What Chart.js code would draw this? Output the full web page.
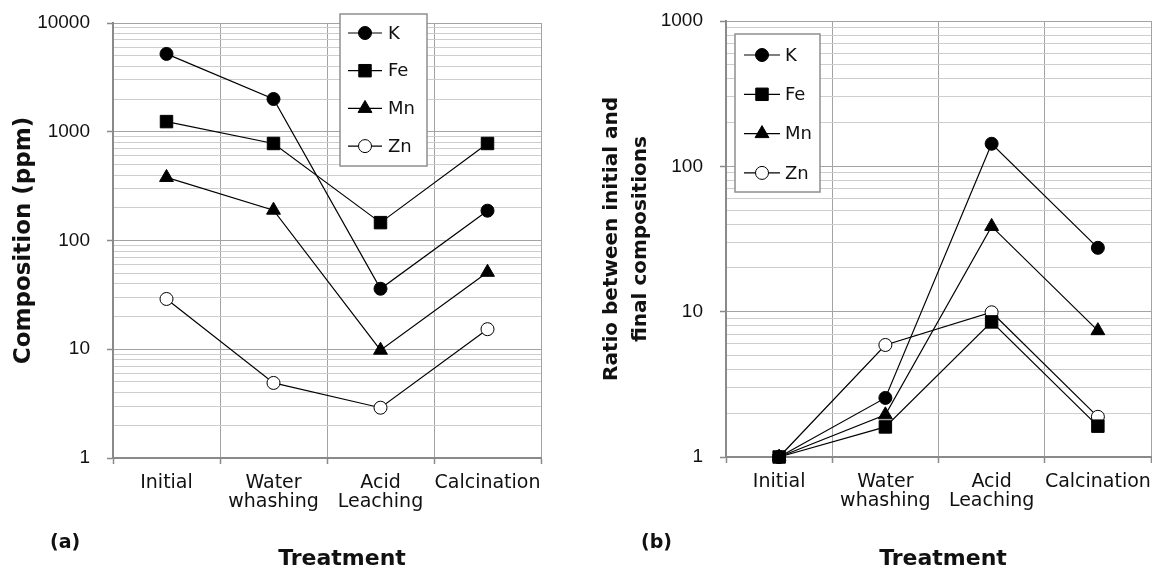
<!DOCTYPE html>
<html>
<head>
<meta charset="utf-8">
<script src="https://cdn.jsdelivr.net/npm/chart.js@4.4.1/dist/chart.umd.min.js"></script>
<style>
  html, body { margin: 0; padding: 0; background: #fff; overflow: hidden; }
  #wrap { position: relative; width: 1152px; height: 572px; overflow: hidden; }
  .box { position: absolute; top: 0; height: 572px; }
</style>
</head>
<body>
<div id="wrap">
  <div class="box" style="left:0; width:576px"><canvas id="chartA"></canvas></div>
  <div class="box" style="left:576px; width:590px"><canvas id="chartB"></canvas></div>
</div>
<script>
const treatments = [["Initial"], ["Water", "whashing"], ["Acid", "Leaching"], ["Calcination"]];
const elements = ["K", "Fe", "Mn", "Zn"];

// (a) composition in ppm
const kPpm  = [5200, 2000, 36, 188];
const fePpm = [1240, 780, 146, 780];
const mnPpm = [380, 190, 9.8, 51];
const znPpm = [29, 4.9, 2.9, 15.3];

// (b) ratio between initial and final compositions
const kRatio  = [1, 2.55, 143, 27.5];
const feRatio = [1, 1.61, 8.5, 1.63];
const mnRatio = [1, 1.95, 38.6, 7.4];
const znRatio = [1, 5.9, 9.9, 1.89];

// y tick labels (decades) and the minor steps between them
const decadesA = [1, 10, 100, 1000, 10000];
const decadesB = [1, 10, 100, 1000];
const minorSteps = [1, 2, 3, 4, 5, 6, 7, 8, 9];

const TEXT = "#111";
const GRID_MAJOR = "#a3a3a3";
const GRID_MINOR = "#cdcdcd";
const AXIS = "#8a8a8a";

Chart.defaults.font.family = "'DejaVu Sans', sans-serif";
Chart.defaults.color = TEXT;

function gridValues(decades) {
    let vals = [];
    for (let i = 0; i < decades.length - 1; i++) {
        minorSteps.forEach((s) => vals.push(s * decades[i]));
    }
    vals.push(decades[decades.length - 1]);
    return vals;
}

const markers = [
    { pointStyle: "circle", pointRadius: 6.5, pointBackgroundColor: "#000" },
    { pointStyle: "rect", pointRadius: 8.8, pointBackgroundColor: "#000" },
    { pointStyle: "triangle", pointRadius: 8, pointBackgroundColor: "#000" },
    { pointStyle: "circle", pointRadius: 6.5, pointBackgroundColor: "#fff" },
];

function makeDatasets(series) {
    return series.map((values, i) => ({
        label: elements[i],
        data: values,
        borderColor: "#000",
        borderWidth: 1.2,
        pointBorderColor: "#000",
        pointBorderWidth: 1,
        pointHoverRadius: markers[i].pointRadius,
        clip: false,
        ...markers[i],
    }));
}

// boxed legend inside the plot, panel tag and x axis title
const boxLegend = {
    id: "boxLegend",
    afterDraw(chart, args, opts) {
        const ctx = chart.ctx;
        ctx.save();
        ctx.fillStyle = "#fff";
        ctx.fillRect(opts.x, opts.y, opts.w, opts.h);
        ctx.strokeStyle = "#8f8f8f";
        ctx.lineWidth = 1.5;
        ctx.strokeRect(opts.x, opts.y, opts.w, opts.h);
        chart.data.datasets.forEach((ds, i) => {
            const y = opts.y + opts.first + i * opts.gap;
            ctx.strokeStyle = "#000";
            ctx.lineWidth = 1.2;
            ctx.beginPath();
            ctx.moveTo(opts.x + opts.lineL, y);
            ctx.lineTo(opts.x + opts.lineR, y);
            ctx.stroke();
            ctx.fillStyle = ds.pointBackgroundColor;
            ctx.lineWidth = 1;
            Chart.helpers.drawPoint(ctx, { pointStyle: ds.pointStyle, radius: ds.pointRadius, borderWidth: 1, rotation: 0 },
                opts.x + (opts.lineL + opts.lineR) / 2, y);
            ctx.fillStyle = TEXT;
            ctx.font = "18px 'DejaVu Sans'";
            ctx.textBaseline = "middle";
            ctx.fillText(ds.label, opts.x + opts.textX, y + 1);
        });
        ctx.fillStyle = TEXT;
        ctx.textBaseline = "middle";
        ctx.font = "bold 19px 'DejaVu Sans'";
        ctx.fillText(opts.tag, opts.tagX, opts.tagY);
        ctx.font = "bold 22px 'DejaVu Sans'";
        ctx.textAlign = "center";
        ctx.fillText("Treatment", opts.titleX, 559);
        ctx.restore();
    },
};

function makeChart(id, series, decades, yTitle, yTitleFont, yTitlePad, yWidth, xHeight, pad, legend) {
    const grid = gridValues(decades);
    return new Chart(id, {
        type: "line",
        data: { labels: treatments, datasets: makeDatasets(series) },
        options: {
            responsive: true,
            maintainAspectRatio: false,
            animation: false,
            layout: { padding: pad },
            plugins: { legend: { display: false }, tooltip: { enabled: false }, boxLegend: legend },
            scales: {
                x: {
                    type: "category",
                    offset: true,
                    grid: { offset: true, color: GRID_MAJOR, lineWidth: 1, tickLength: 6, tickColor: AXIS, tickWidth: 1.5 },
                    border: { color: AXIS, width: 2 },
                    ticks: { font: { size: 19, lineHeight: 1.0 }, padding: 10, maxRotation: 0, autoSkip: false, color: TEXT },
                    afterFit: (s) => { s.height = xHeight; s.paddingLeft = 0; s.paddingRight = 0; },
                },
                y: {
                    type: "logarithmic",
                    min: decades[0],
                    max: decades[decades.length - 1],
                    afterBuildTicks: (s) => {
                        s.ticks = grid.map((v) => ({ value: v, major: decades.includes(v) }));
                    },
                    grid: {
                        color: (c) => (c.tick && c.tick.major ? GRID_MAJOR : GRID_MINOR),
                        lineWidth: 1,
                        tickLength: 6,
                        tickColor: (c) => (c.tick && c.tick.major ? AXIS : "rgba(0,0,0,0)"),
                        tickWidth: 1.5,
                    },
                    border: { color: AXIS, width: 2 },
                    ticks: {
                        autoSkip: false,
                        padding: 17,
                        color: TEXT,
                        font: { family: "'Liberation Sans', Arial, sans-serif", size: 19 },
                        callback: (v) => (decades.includes(v) ? String(v) : ""),
                    },
                    title: { display: true, text: yTitle, font: yTitleFont, padding: { top: yTitlePad, bottom: 0 }, color: TEXT },
                    afterFit: (s) => { s.width = yWidth; s.paddingTop = 0; s.paddingBottom = 0; },
                },
            },
        },
        plugins: [boxLegend],
    });
}

makeChart("chartA", [kPpm, fePpm, mnPpm, znPpm], decadesA,
    "Composition (ppm)", { size: 23, weight: "bold" }, 10, 113, 114,
    { top: 23, right: 35, bottom: 0, left: 0 },
    { x: 340, y: 14, w: 87, h: 152, first: 19, gap: 37.7, lineL: 8, lineR: 42, textX: 48,
      tag: "(a)", tagX: 50, tagY: 543, titleX: 342 });

makeChart("chartB", [kRatio, feRatio, mnRatio, znRatio], decadesB,
    ["Ratio between initial and", "final compositions"], { size: 20, weight: "bold", lineHeight: 1.42 }, 22, 150, 115,
    { top: 21, right: 15, bottom: 0, left: 0 },
    { x: 159, y: 34, w: 85, h: 158, first: 21, gap: 39.3, lineL: 9, lineR: 45, textX: 50,
      tag: "(b)", tagX: 65, tagY: 543, titleX: 367 });
</script>
</body>
</html>
